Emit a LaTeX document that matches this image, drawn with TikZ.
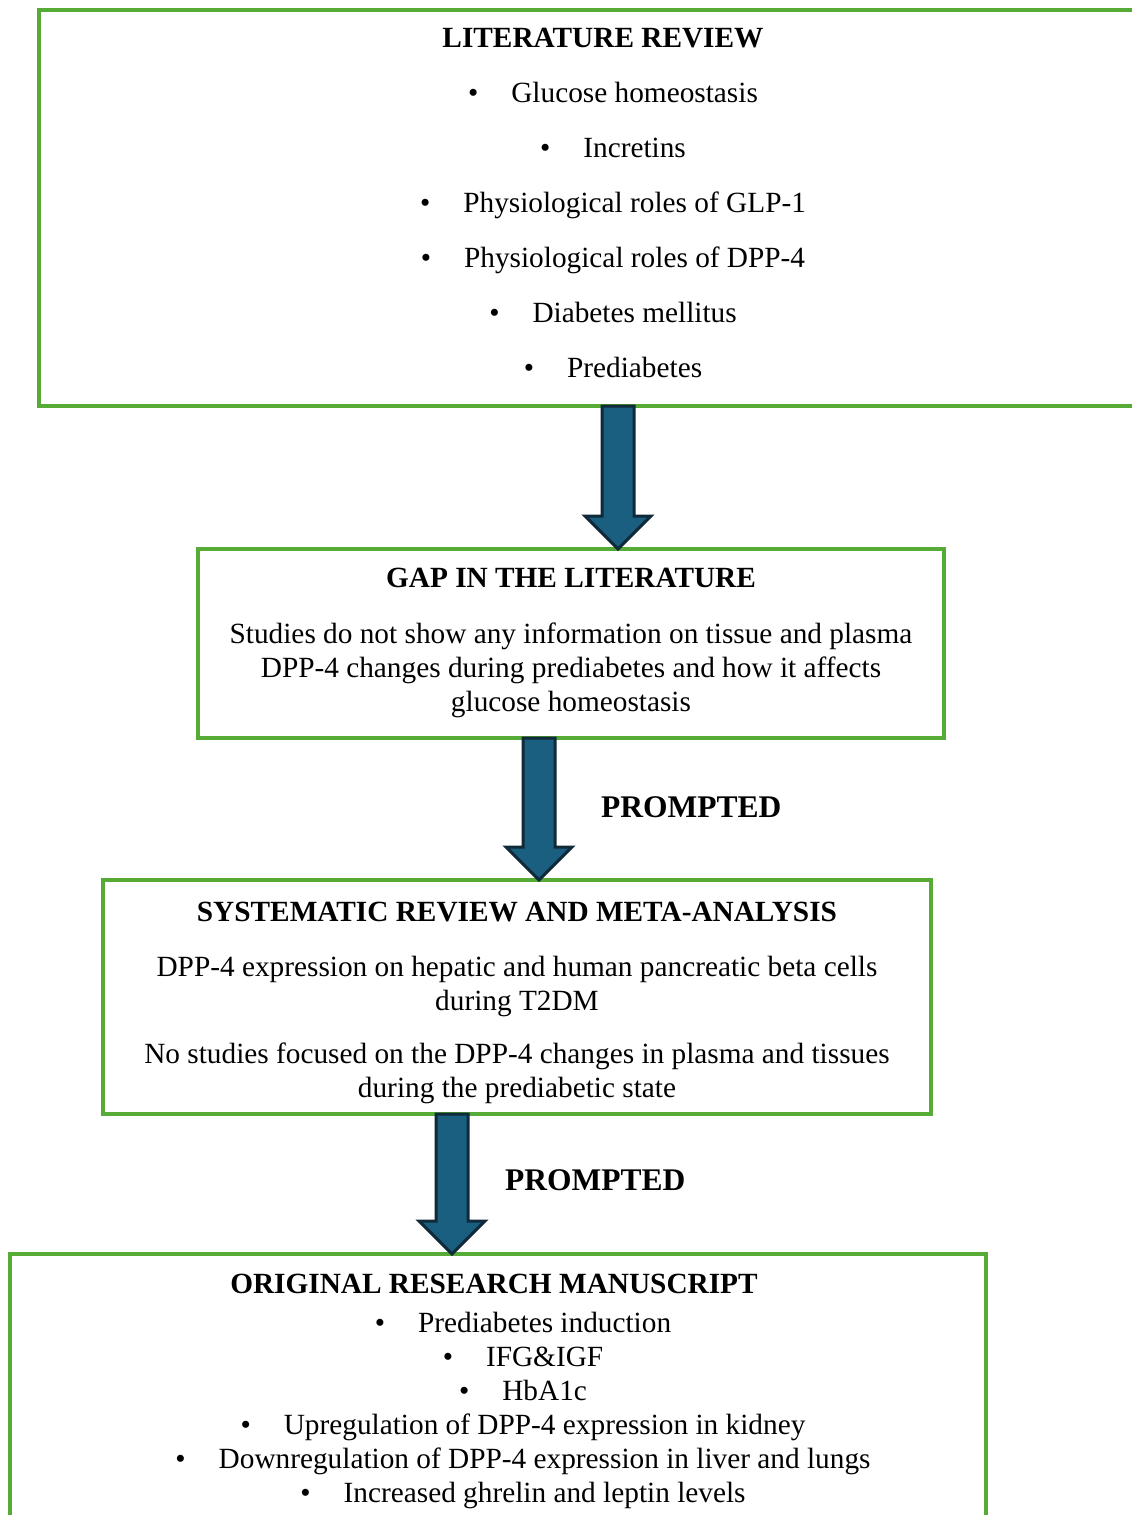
\documentclass[tikz,border=0pt]{standalone}
\usepackage{fontspec}
\setmainfont{Liberation Serif}
\usetikzlibrary{positioning,calc}
\definecolor{boxgreen}{RGB}{86,170,54}
\definecolor{arrowfill}{RGB}{26,94,128}
\definecolor{arrowedge}{RGB}{16,42,58}
\newcommand{\bodysize}{\fontsize{29.3}{34}\selectfont}

\begin{document}
\begin{tikzpicture}[x=1pt,y=-1pt,
    every node/.style={font=\bodysize},
    box/.style={draw=boxgreen,line width=3.2pt,inner sep=0pt,outer sep=0pt},
    head/.style={font=\bodysize\bfseries,anchor=base,inner sep=0pt},
    body/.style={align=center,anchor=north,inner sep=0pt},
    tag/.style={font=\fontsize{31.5}{36}\selectfont\bfseries,anchor=base west,inner sep=0pt},
    blockarrow/.style={draw=arrowedge,fill=arrowfill,line width=3pt,
      to path={let \p1=(\tikztostart), \p2=(\tikztotarget) in
        (\x1-16pt,\y1) -- (\x1+16pt,\y1) -- (\x1+16pt,\y2+33pt) -- (\x1+33pt,\y2+33pt)
        -- (\x1,\y2) -- (\x1-33pt,\y2+33pt) -- (\x1-16pt,\y2+33pt) -- cycle}}
    ]
    \useasboundingbox (0,0) rectangle (1132,1515);
    \clip (0,0) rectangle (1132,1515);

    % the boxes
    \node (lit) [box,minimum width=1128,minimum height=396] at (603,208) {};
    \node (gap) [box,minimum width=746,minimum height=189] at (571,643.5) {};
    \node (sys) [box,minimum width=828,minimum height=234] at (517,997) {};
    \node (orig) [box,minimum width=976,minimum height=326] at (498,1417) {};

    % the texts
    \node (littitle) [head] at (603,47) {LITERATURE REVIEW};
    \node (littext) [body] at (613,78.2) {\strut\textbullet\hspace{33pt}Glucose homeostasis\\[21pt]
      \textbullet\hspace{33pt}Incretins\\[21pt]
      \textbullet\hspace{33pt}Physiological roles of GLP-1\\[21pt]
      \textbullet\hspace{33pt}Physiological roles of DPP-4\\[21pt]
      \textbullet\hspace{33pt}Diabetes mellitus\\[21pt]
      \textbullet\hspace{33pt}Prediabetes};

    \node (gaptitle) [head] at (571,587) {GAP IN THE LITERATURE};
    \node (gaptext) [body] at (571,619.2) {\strut Studies do not show any information on tissue and plasma\\
      DPP-4 changes during prediabetes and how it affects\\
      glucose homeostasis};

    \node (systitle) [head] at (517,921) {SYSTEMATIC REVIEW AND META-ANALYSIS};
    \node (systext) [body] at (517,952.2) {\strut DPP-4 expression on hepatic and human pancreatic beta cells\\
      during T2DM\\[19pt]
      No studies focused on the DPP-4 changes in plasma and tissues\\
      during the prediabetic state};

    \node (origtitle) [head] at (494,1293) {ORIGINAL RESEARCH MANUSCRIPT};
    \node (origtext) [body] at (523,1308.2) {\strut\textbullet\hspace{33pt}Prediabetes induction\\
      \textbullet\hspace{33pt}IFG\&IGF\\
      \textbullet\hspace{33pt}HbA1c\\
      \textbullet\hspace{33pt}Upregulation of DPP-4 expression in kidney\\
      \textbullet\hspace{33pt}Downregulation of DPP-4 expression in liver and lungs\\
      \textbullet\hspace{33pt}Increased ghrelin and leptin levels};

    \node (p1) [tag] at (601,817) {PROMPTED};
    \node (p2) [tag] at (505,1190) {PROMPTED};

    % the arrows
    \draw[blockarrow] ([xshift=15pt]lit.south) to (gap.north);
    \draw[blockarrow] ([xshift=-32pt]gap.south) to (sys.north);
    \draw[blockarrow] ([xshift=-65pt]sys.south) to (orig.north);
\end{tikzpicture}
\end{document}
